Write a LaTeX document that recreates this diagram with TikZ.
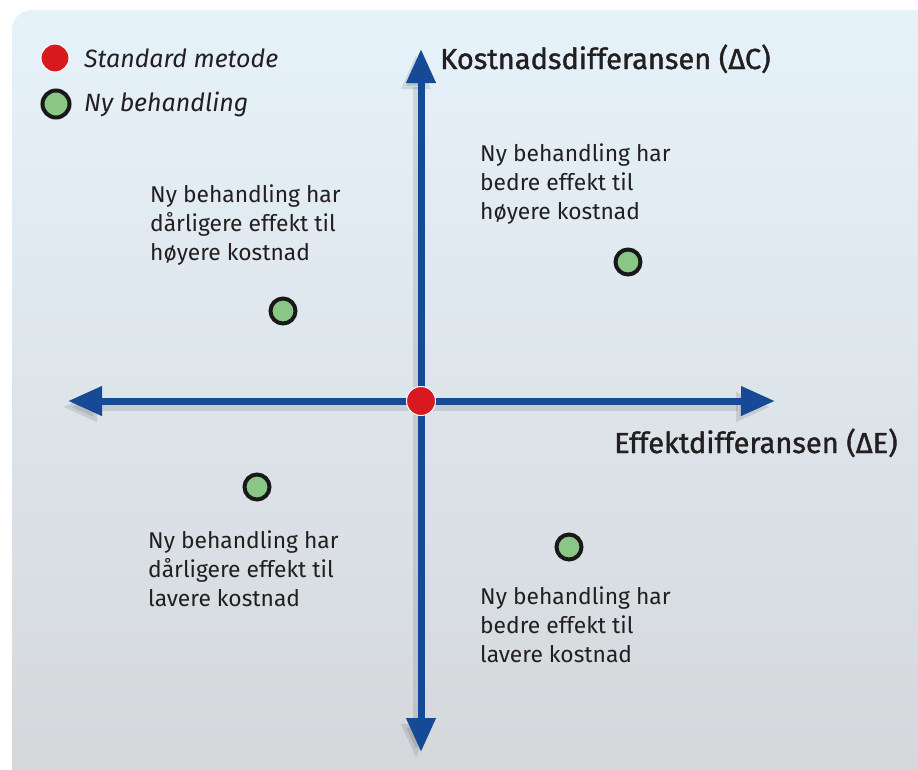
\documentclass[tikz,border=0pt]{standalone}
\usepackage{fontspec}
\setmainfont{Fira Sans}
\newfontfamily\medfont[FakeBold=1.3]{Fira Sans}
\usetikzlibrary{arrows.meta}
\definecolor{bgtop}{HTML}{E6F2FA}
\definecolor{bgbot}{HTML}{D4D7DA}
\definecolor{axisblue}{HTML}{164A96}
\definecolor{dotred}{HTML}{D81920}
\definecolor{dotgreen}{HTML}{8AC686}
\definecolor{txt}{HTML}{231F20}
\tikzset{
  axis/.style={line width=7pt, color=axisblue, {Triangle[length=34pt,width=28pt]}-{Triangle[length=34pt,width=28pt]}},
  axisshadow/.style={line width=7pt, color=black, opacity=0.10, {Triangle[length=34pt,width=28pt]}-{Triangle[length=34pt,width=28pt]}},
  newdot/.style={circle, fill=dotgreen, draw=black!90, line width=4pt, minimum size=25pt, inner sep=0pt},
  stddot/.style={circle, fill=dotred, draw=white, line width=1pt, minimum size=29pt, inner sep=0pt},
  quad/.style={align=left, anchor=north west, inner sep=0pt, text=txt, font=\fontsize{22.8}{28.7}\selectfont},
  axlabel/.style={anchor=base west, inner sep=0pt, text=txt, font=\fontsize{29}{32}\medfont},
  legend/.style={anchor=west, inner sep=0pt, text=txt, font=\fontsize{25}{28}\selectfont\itshape},
}
\begin{document}
\begin{tikzpicture}[x=1pt,y=-1pt]
\useasboundingbox (0,0) rectangle (918,769);
\fill[white] (0,0) rectangle (918,769);
\shade[top color=bgtop, bottom color=bgbot, rounded corners=20pt] (12,10) rectangle (940,790);
% axis end points
\coordinate (L) at (68,401);
\coordinate (R) at (775,401);
\coordinate (T) at (421,49);
\coordinate (B) at (421,752);
% shadows
\draw[axisshadow] ([shift={(-5,6)}]L) -- ([shift={(-5,6)}]R);
\draw[axisshadow] ([shift={(-5,6)}]T) -- ([shift={(-5,6)}]B);
% axes
\draw[axis] (L) -- (R);
\draw[axis] (T) -- (B);
\node[stddot] (std) at (421,401) {};
% points
\node[newdot] (p1) at (628,262) {};
\node[newdot] (p2) at (283,311) {};
\node[newdot] (p3) at (257,487) {};
\node[newdot] (p4) at (569,547) {};
% legend
\node[stddot, minimum size=28pt] (lstd) at (55,58) {};
\node[newdot, minimum size=27pt] (lnew) at (56,104) {};
\node[legend] (lt1) at (84,58) {Standard metode};
\node[legend] (lt2) at (84,104) {Ny behandling};
% axis labels
\node[axlabel] (yl) at (440,69) {Kostnadsdifferansen (ΔC)};
\node[axlabel] (xl) at (614,453) {Effektdifferansen (ΔE)};
% quadrant texts
\node[quad] (q1) at (480,144) {Ny behandling har\\bedre effekt til\\høyere kostnad};
\node[quad] (q2) at (150,185) {Ny behandling har\\dårligere effekt til\\høyere kostnad};
\node[quad] (q3) at (148,531) {Ny behandling har\\dårligere effekt til\\lavere kostnad};
\node[quad] (q4) at (480,587) {Ny behandling har\\bedre effekt til\\lavere kostnad};
\end{tikzpicture}
\end{document}
